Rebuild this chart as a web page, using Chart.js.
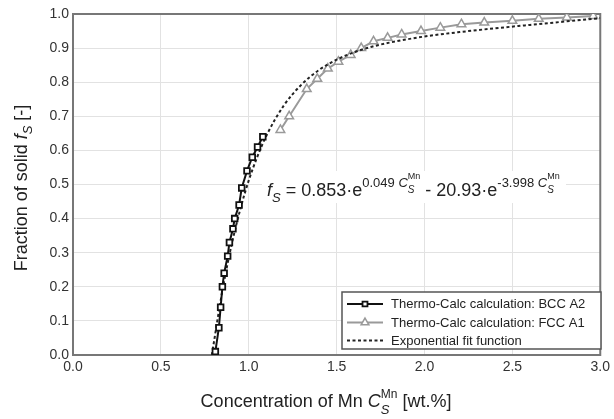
<html>
<head>
<script src="https://cdn.jsdelivr.net/npm/chart.js@4.4.1/dist/chart.umd.min.js"></script>
<style>
  body { margin: 0; background: #fff; }
  #wrap { width: 614px; height: 419px; }
</style>
</head>
<body>
<div id="wrap"><canvas id="myChart"></canvas></div>
<script>
// values
var bccC = [0.81, 0.83, 0.84, 0.85, 0.86, 0.88, 0.89, 0.91, 0.92, 0.945, 0.96, 0.99, 1.02, 1.05, 1.08];
var bccF = [0.01, 0.08, 0.14, 0.20, 0.24, 0.29, 0.33, 0.37, 0.40, 0.44, 0.49, 0.54, 0.58, 0.61, 0.64];

var fccC = [1.18, 1.23, 1.33, 1.39, 1.45, 1.51, 1.58, 1.64, 1.71, 1.79, 1.87, 1.98, 2.09, 2.21, 2.34, 2.50, 2.65, 2.81, 2.96];
var fccF = [0.66, 0.70, 0.78, 0.81, 0.84, 0.86, 0.88, 0.90, 0.92, 0.93, 0.94, 0.95, 0.96, 0.97, 0.975, 0.98, 0.986, 0.99, 0.994];

var fitC = [0.79, 0.85, 0.90, 0.95, 1.00, 1.05, 1.10, 1.20, 1.30, 1.40, 1.50, 1.60, 1.70, 1.80, 2.00, 2.20, 2.40, 2.60, 2.80, 3.00];
var fitF = [0.000, 0.189, 0.318, 0.424, 0.512, 0.583, 0.643, 0.732, 0.793, 0.836, 0.866, 0.888, 0.904, 0.916, 0.934, 0.947, 0.958, 0.968, 0.978, 0.988];

var legendLabels = ["Thermo-Calc calculation: BCC A2", "Thermo-Calc calculation: FCC A1", "Exponential fit function"];

function pts(xs, ys) {
    return xs.map(function (x, i) { return { x: x, y: ys[i] }; });
}

var FONT = "'Liberation Sans', Arial, sans-serif";

function setFont(ctx, r) {
    ctx.font = (r.italic ? "italic " : "") + r.size + "px " + FONT;
}

// a run is {t,size,italic,dy} or {stack:[runs]} (drawn at the same x)
function runWidth(ctx, r) {
    if (r.stack) {
        return Math.max.apply(null, r.stack.map(function (s) { return runWidth(ctx, s); }));
    }
    setFont(ctx, r);
    return ctx.measureText(r.t).width;
}

function drawRuns(ctx, runs, x, y, align) {
    var total = 0;
    runs.forEach(function (r) { total += runWidth(ctx, r); });
    var cx = align === "center" ? x - total / 2 : x;
    ctx.textBaseline = "alphabetic";
    ctx.textAlign = "left";
    runs.forEach(function (r) {
        var w = runWidth(ctx, r);
        var list = r.stack ? r.stack : [r];
        list.forEach(function (s) {
            setFont(ctx, s);
            ctx.fillText(s.t, cx, y + (s.dy || 0));
        });
        cx += w;
    });
    return total;
}

var textPlugin = {
    id: "texts",
    beforeDatasetsDraw: function (chart) {
        var ctx = chart.ctx, a = chart.chartArea;
        ctx.save();
        ctx.strokeStyle = "#777";
        ctx.lineWidth = 2;
        ctx.strokeRect(a.left, a.top, a.right - a.left, a.bottom - a.top);
        ctx.restore();
    },
    afterDraw: function (chart) {
        var ctx = chart.ctx;
        ctx.save();
        ctx.fillStyle = "#222";

        // y axis title
        ctx.save();
        ctx.translate(21, 188);
        ctx.rotate(-Math.PI / 2);
        drawRuns(ctx, [
            { t: "Fraction of solid ", size: 18 },
            { t: "f", size: 18, italic: true },
            { t: "S", size: 13, italic: true, dy: 5 },
            { t: " [-]", size: 18 }
        ], 0, 6, "center");
        ctx.restore();

        // x axis title
        drawRuns(ctx, [
            { t: "Concentration of Mn ", size: 18 },
            { t: "C", size: 18, italic: true },
            { stack: [{ t: "S", size: 13, italic: true, dy: 7 }, { t: "Mn", size: 12, dy: -9 }] },
            { t: " [wt.%]", size: 18 }
        ], 326, 407, "center");

        // formula with white box
        ctx.fillStyle = "#fff";
        ctx.fillRect(262, 171, 304, 32);
        ctx.fillStyle = "#222";
        drawRuns(ctx, [
            { t: "f", size: 18, italic: true },
            { t: "S", size: 13, italic: true, dy: 6 },
            { t: " = 0.853·e", size: 18 },
            { t: "0.049 ", size: 13, dy: -9 },
            { t: "C", size: 13, italic: true, dy: -9 },
            { stack: [{ t: "S", size: 10, italic: true, dy: -3 }, { t: "Mn", size: 9, dy: -17 }] },
            { t: " - 20.93·e", size: 18 },
            { t: "-3.998 ", size: 13, dy: -9 },
            { t: "C", size: 13, italic: true, dy: -9 },
            { stack: [{ t: "S", size: 10, italic: true, dy: -3 }, { t: "Mn", size: 9, dy: -17 }] }
        ], 267, 196, "left");

        // legend
        var lx = 342, ly = 292, lw = 259, lh = 57;
        ctx.fillStyle = "#fff";
        ctx.fillRect(lx, ly, lw, lh);
        ctx.strokeStyle = "#555";
        ctx.lineWidth = 1.5;
        ctx.strokeRect(lx, ly, lw, lh);
        var rows = [304, 322.5, 340.5];
        var sets = chart.data.datasets;
        var order = [0, 2, 1];
        rows.forEach(function (ry, i) {
            var ds = sets[order[i]];
            ctx.save();
            ctx.strokeStyle = ds.borderColor;
            ctx.lineWidth = ds.borderWidth;
            ctx.setLineDash(ds.borderDash || []);
            ctx.beginPath();
            ctx.moveTo(347, ry);
            ctx.lineTo(383, ry);
            ctx.stroke();
            ctx.restore();
            if (ds.pointRadius > 0) {
                ctx.save();
                ctx.fillStyle = "#fff";
                ctx.strokeStyle = ds.borderColor;
                ctx.lineWidth = ds.pointBorderWidth;
                Chart.helpers.drawPoint(ctx, {
                    pointStyle: ds.pointStyle,
                    radius: ds.pointRadius - 0.5,
                    borderWidth: ds.pointBorderWidth,
                    rotation: 0
                }, 365, ry);
                ctx.restore();
            }
            ctx.fillStyle = "#222";
            ctx.font = "13px " + FONT;
            ctx.textBaseline = "middle";
            ctx.textAlign = "left";
            ctx.fillText(legendLabels[i], 391, ry + 0.5);
        });
        ctx.restore();
    }
};

var ctx = document.getElementById("myChart").getContext("2d");
var chart = new Chart(ctx, {
    type: "scatter",
    data: {
        datasets: [
            {
                label: legendLabels[0],
                data: pts(bccC, bccF),
                showLine: true,
                borderColor: "#111",
                backgroundColor: "#fff",
                borderWidth: 2,
                pointStyle: "rect",
                pointRadius: 4,
                pointBorderWidth: 1.8,
                pointBackgroundColor: "#fff"
            },
            {
                label: legendLabels[2],
                data: pts(fitC, fitF),
                showLine: true,
                borderColor: "#222",
                borderWidth: 2,
                borderDash: [3, 2.5],
                pointRadius: 0,
                cubicInterpolationMode: "monotone"
            },
            {
                label: legendLabels[1],
                data: pts(fccC, fccF),
                showLine: true,
                borderColor: "#9a9a9a",
                backgroundColor: "#fff",
                borderWidth: 2,
                pointStyle: "triangle",
                pointRadius: 5,
                pointBorderWidth: 1.5,
                pointBackgroundColor: "#fff"
            }
        ]
    },
    options: {
        responsive: true,
        maintainAspectRatio: false,
        animation: false,
        events: [],
        layout: { padding: { top: 14, right: 11, left: 0, bottom: 0 } },
        plugins: { legend: { display: false }, tooltip: { enabled: false } },
        scales: {
            x: {
                type: "linear",
                min: 0, max: 3,
                afterFit: function (s) { s.height = 64; },
                ticks: {
                    stepSize: 0.5,
                    padding: 4,
                    color: "#333",
                    font: { family: FONT, size: 14 },
                    callback: function (v) { return v.toFixed(1); }
                },
                grid: { color: "#e2e2e2", lineWidth: 1, drawTicks: false },
                border: { display: false }
            },
            y: {
                min: 0, max: 1,
                afterFit: function (s) { s.width = 73; },
                ticks: {
                    stepSize: 0.1,
                    padding: 4,
                    color: "#333",
                    font: { family: FONT, size: 14 },
                    callback: function (v) { return v.toFixed(1); }
                },
                grid: { color: "#e2e2e2", lineWidth: 1, drawTicks: false },
                border: { display: false }
            }
        }
    },
    plugins: [textPlugin]
});
</script>
</body>
</html>
